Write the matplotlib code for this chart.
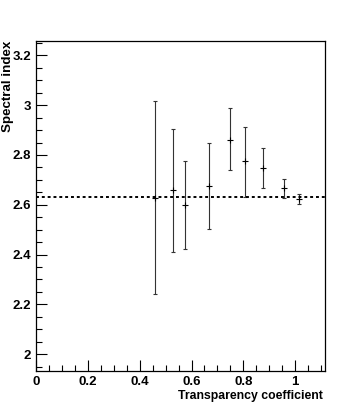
import matplotlib
matplotlib.use("Agg")
import matplotlib.pyplot as plt
from matplotlib.ticker import MultipleLocator

# transparency coefficient vs spectral index
transp = [0.46, 0.53, 0.576, 0.668, 0.747, 0.806, 0.875, 0.958, 1.013]
index = [2.628, 2.659, 2.600, 2.677, 2.862, 2.775, 2.749, 2.667, 2.624]
err_up = [0.389, 0.246, 0.175, 0.171, 0.125, 0.138, 0.079, 0.035, 0.019]
err_lo = [0.387, 0.247, 0.176, 0.175, 0.124, 0.142, 0.080, 0.038, 0.022]
mean_index = 2.63

plt.rcParams['font.family'] = ['Liberation Sans', 'DejaVu Sans']

fig = plt.figure(figsize=(3.61, 4.13), dpi=100)
ax = fig.add_axes([0.0997, 0.1017, 0.8006, 0.799])

ax.errorbar(transp, index, yerr=[err_lo, err_up], fmt='+', color='black',
            ecolor='#333333', elinewidth=0.8, capsize=1.5, capthick=0.8,
            markersize=4, markeredgewidth=0.8)
ax.axhline(mean_index, color='black', linestyle=(0, (1.5, 1.5)), linewidth=1.4)

ax.set_xlim(0, 1.115)
ax.set_ylim(1.932, 3.258)

ax.xaxis.set_major_locator(MultipleLocator(0.2))
ax.xaxis.set_minor_locator(MultipleLocator(0.05))
ax.yaxis.set_major_locator(MultipleLocator(0.2))
ax.yaxis.set_minor_locator(MultipleLocator(0.05))
ax.tick_params(which='both', direction='in', top=False, right=False,
               labelsize=9.5, width=0.8)
ax.tick_params(which='major', length=8)
ax.tick_params(which='minor', length=4)

def fmt(v, pos):
    return ('%g' % round(v, 2))
ax.xaxis.set_major_formatter(plt.FuncFormatter(fmt))
ax.yaxis.set_major_formatter(plt.FuncFormatter(fmt))
for lab in ax.get_xticklabels() + ax.get_yticklabels():
    lab.set_fontweight('bold')

ax.set_xlabel('Transparency coefficient', fontsize=8.8, fontweight='bold',
              loc='right')
ax.xaxis.set_label_coords(0.993, -0.058)
ax.set_ylabel('Spectral index', fontsize=9.6, fontweight='bold', loc='top')
ax.yaxis.set_label_coords(-0.077, 1.0)

for s in ax.spines.values():
    s.set_linewidth(0.9)

plt.savefig('out.png', dpi=100)
